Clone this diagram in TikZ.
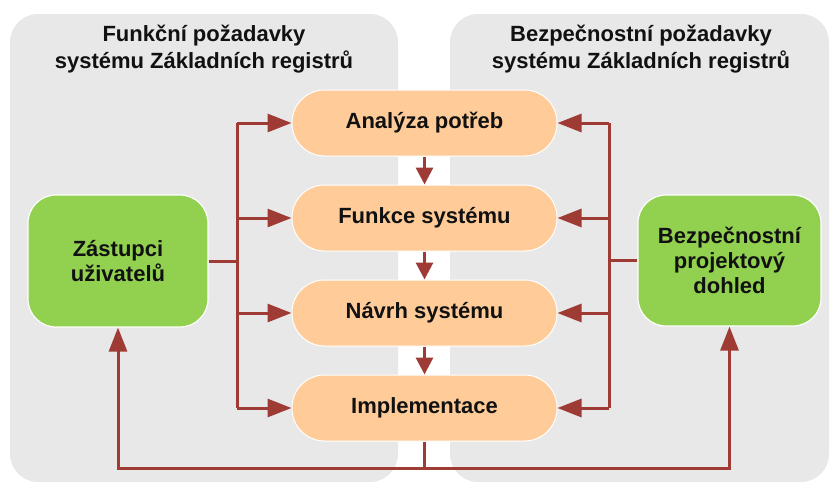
\documentclass[tikz,border=0pt]{standalone}
\usepackage{fontspec}
\setmainfont{Liberation Sans}
\usetikzlibrary{arrows.meta}
\definecolor{panelgray}{HTML}{E8E8E8}
\definecolor{stepfill}{HTML}{FFCC99}
\definecolor{actorfill}{HTML}{92D050}
\definecolor{flowred}{HTML}{9E3B35}
\definecolor{inktext}{HTML}{111111}

\begin{document}
\begin{tikzpicture}[x=1pt,y=-1pt,
  panel/.style={fill=panelgray, rounded corners=28pt},
  title/.style={font=\bfseries\fontsize{22}{27}\selectfont, align=center, text=inktext},
  stepbox/.style={fill=stepfill, draw=white, line width=1pt,
    minimum width=265pt, minimum height=66pt, rounded corners=32.5pt,
    inner sep=0pt, text=inktext, font=\bfseries\fontsize{22}{25}\selectfont},
  actor/.style={fill=actorfill, draw=white, line width=1.2pt,
    rounded corners=28pt, inner sep=0pt, align=center, text=inktext,
    font=\bfseries\fontsize{22}{25}\selectfont},
  wire/.style={draw=flowred, line width=3pt},
  flow/.style={wire, -{Triangle[length=24pt,width=18pt]}},
  down/.style={wire, -{Triangle[length=17pt,width=17pt]}}
]
\useasboundingbox (0,0) rectangle (831,483);

% background panels
\fill[panel] (10,14) rectangle (398,482);
\fill[panel] (450,14) rectangle (829,482);

\node[title] (tl) at (204,49) {Funkční požadavky\\systému Základních registrů};
\node[title] (tr) at (641,49) {Bezpečnostní požadavky\\systému Základních registrů};

% process steps
\node[stepbox] (a1) at (424.5,123) {Analýza potřeb};
\node[stepbox] (a2) at (424.5,218) {Funkce systému};
\node[stepbox] (a3) at (424.5,313) {Návrh systému};
\node[stepbox] (a4) at (424.5,408) {Implementace};

% stakeholders
\node[actor, minimum width=180pt, minimum height=132pt] (za) at (118,261)
  {Zástupci\\uživatelů};
\node[actor, minimum width=183pt, minimum height=131pt] (bp) at (729.5,260.5)
  {Bezpečnostní\\projektový\\dohled};

% bus positions
\coordinate (lbx) at (237,0);
\coordinate (rbx) at (609,0);
\coordinate (bot) at (0,468);

% left bus
\draw[wire] (za.east) -- (za.east -| lbx);
\draw[wire] (a1.west -| lbx) -- (a4.west -| lbx);
\foreach \s in {a1,a2,a3,a4}
  \draw[flow] (\s.west -| lbx) -- (\s.west);

% right bus
\draw[wire] (bp.west) -- (bp.west -| rbx);
\draw[wire] (a1.east -| rbx) -- (a4.east -| rbx);
\foreach \s in {a1,a2,a3,a4}
  \draw[flow] (\s.east -| rbx) -- (\s.east);

% step sequence
\draw[down] (a1.south) -- (a2.north);
\draw[down] (a2.south) -- (a3.north);
\draw[down] (a3.south) -- (a4.north);

% feedback loop
\draw[wire] (a4.south) -- (a4.south |- bot);
\draw[flow] (a4.south |- bot) -| (za.south);
\draw[flow] (a4.south |- bot) -| (bp.south);
\end{tikzpicture}
\end{document}
